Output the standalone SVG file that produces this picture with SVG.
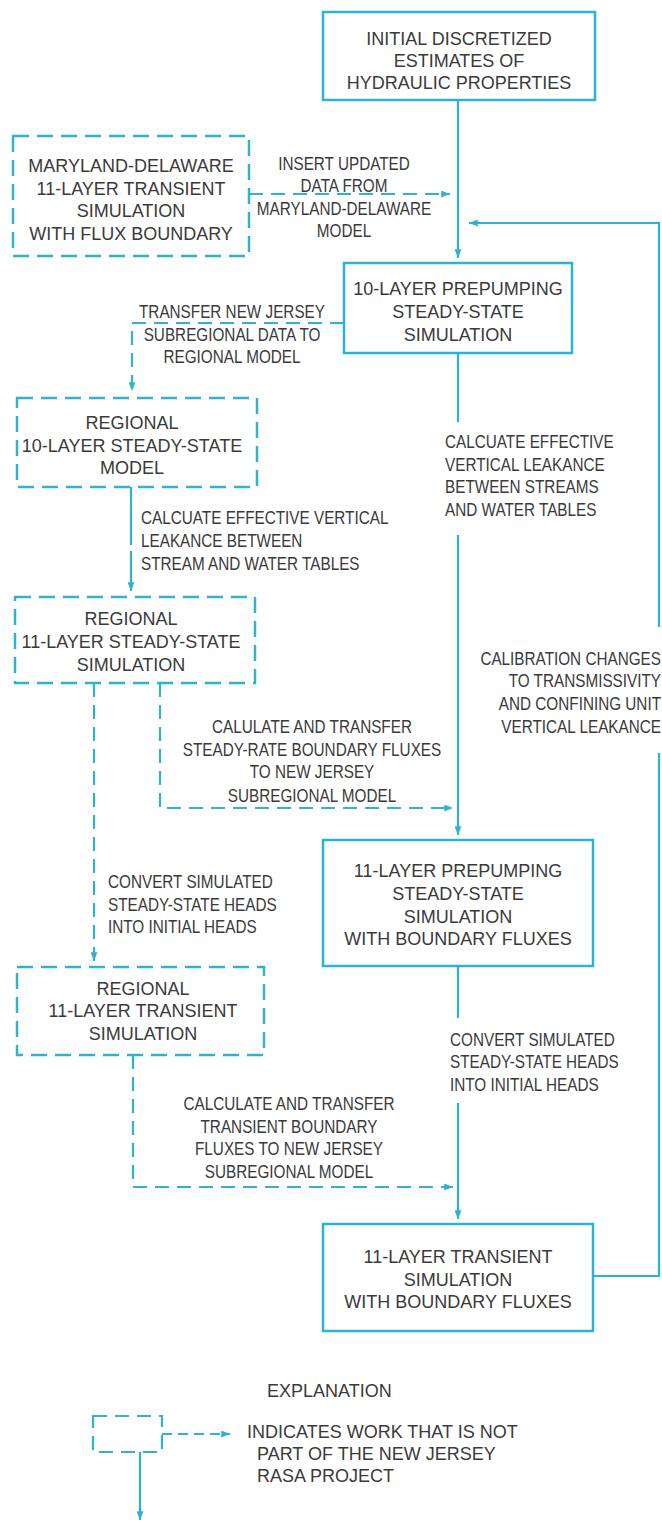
<svg xmlns="http://www.w3.org/2000/svg" width="662" height="1524" viewBox="0 0 662 1524">
<style>
.box{fill:none;stroke:#2bb3d6;stroke-width:2.5}
.dbox{fill:none;stroke:#33b2cc;stroke-width:2.5;stroke-dasharray:16 8}
.c{fill:none;stroke:#2bb3d6;stroke-width:2.2}
.dc{fill:none;stroke:#33b2cc;stroke-width:2.2;stroke-dasharray:14 8}
text{font-family:"Liberation Sans",Arial,sans-serif;font-size:18px;fill:#3a3a3a}
.m{text-anchor:middle}
.s{text-anchor:start}
.e{text-anchor:end}
</style>
<defs>
<marker id="ah" viewBox="0 0 10 8" refX="10" refY="4" markerWidth="9" markerHeight="7" markerUnits="userSpaceOnUse" orient="auto">
<path d="M0,0 L10,4 L0,8 z" fill="#2bb3d6"/>
</marker>
<marker id="dah" viewBox="0 0 10 8" refX="10" refY="4" markerWidth="9" markerHeight="7" markerUnits="userSpaceOnUse" orient="auto">
<path d="M0,0 L10,4 L0,8 z" fill="#33b2cc"/>
</marker>
</defs>
<rect width="662" height="1524" fill="#ffffff"/>

<g id="connectors">
<path class="c" d="M458,100 V258" marker-end="url(#ah)"/>
<path class="dc" d="M249,194 H450" marker-end="url(#dah)"/>
<path class="c" d="M593,1276 H659 V753"/>
<path class="c" d="M659,627 V223 H469" marker-end="url(#ah)"/>
<path class="dc" d="M344,323 H132 V391" marker-end="url(#dah)"/>
<path class="dc" d="M131,487 V591" style="stroke-dasharray:58 6" marker-end="url(#dah)"/>
<path class="c" d="M458,353 V422"/>
<path class="c" d="M458,535 V835" marker-end="url(#ah)"/>
<path class="dc" d="M94,683 V961" marker-end="url(#dah)"/>
<path class="dc" d="M160,683 V808 H453" marker-end="url(#dah)"/>
<path class="c" d="M458,966 V1018"/>
<path class="c" d="M458,1103 V1219" marker-end="url(#ah)"/>
<path class="dc" d="M133,1055 V1187 H453" marker-end="url(#dah)"/>
</g>

<g id="n-initial">
<rect class="box" x="323" y="12" width="272" height="88"/>
<text class="m" x="459" y="45">INITIAL DISCRETIZED</text>
<text class="m" x="459" y="67">ESTIMATES OF</text>
<text class="m" x="459" y="89">HYDRAULIC PROPERTIES</text>
</g>

<g id="n-mdde">
<rect class="dbox" x="13" y="136" width="236" height="120"/>
<text class="m" x="131" y="172">MARYLAND-DELAWARE</text>
<text class="m" x="131" y="195">11-LAYER TRANSIENT</text>
<text class="m" x="131" y="217">SIMULATION</text>
<text class="m" x="131" y="240">WITH FLUX BOUNDARY</text>
</g>

<g id="lbl-insert" transform="translate(344,0) scale(0.85,1)">
<text class="m" x="0" y="170">INSERT UPDATED</text>
<text class="m" x="0" y="192">DATA FROM</text>
<text class="m" x="0" y="215">MARYLAND-DELAWARE</text>
<text class="m" x="0" y="237">MODEL</text>
</g>

<g id="n-10layer">
<rect class="box" x="344" y="263" width="228" height="90"/>
<text class="m" x="458" y="295">10-LAYER PREPUMPING</text>
<text class="m" x="458" y="318">STEADY-STATE</text>
<text class="m" x="458" y="341">SIMULATION</text>
</g>

<g id="lbl-transfer" transform="translate(232,0) scale(0.85,1)">
<text class="m" x="0" y="318">TRANSFER NEW JERSEY</text>
<text class="m" x="0" y="341">SUBREGIONAL DATA TO</text>
<text class="m" x="0" y="363">REGIONAL MODEL</text>
</g>

<g id="n-reg10">
<rect class="dbox" x="17" y="398" width="240" height="89"/>
<text class="m" x="132" y="429">REGIONAL</text>
<text class="m" x="132" y="452">10-LAYER STEADY-STATE</text>
<text class="m" x="132" y="474">MODEL</text>
</g>

<g id="lbl-leak-left" transform="translate(141,0) scale(0.85,1)">
<text class="s" x="0" y="524">CALCUATE EFFECTIVE VERTICAL</text>
<text class="s" x="0" y="547">LEAKANCE BETWEEN</text>
<text class="s" x="0" y="570">STREAM AND WATER TABLES</text>
</g>

<g id="lbl-leak-right" transform="translate(445,0) scale(0.85,1)">
<text class="s" x="0" y="448">CALCUATE EFFECTIVE</text>
<text class="s" x="0" y="471">VERTICAL LEAKANCE</text>
<text class="s" x="0" y="493">BETWEEN STREAMS</text>
<text class="s" x="0" y="516">AND WATER TABLES</text>
</g>

<g id="n-reg11ss">
<rect class="dbox" x="15" y="597" width="240" height="86"/>
<text class="m" x="131" y="625">REGIONAL</text>
<text class="m" x="131" y="648">11-LAYER STEADY-STATE</text>
<text class="m" x="131" y="671">SIMULATION</text>
</g>

<g id="lbl-calib" transform="translate(661,0) scale(0.85,1)">
<text class="e" x="0" y="665">CALIBRATION CHANGES</text>
<text class="e" x="0" y="687">TO TRANSMISSIVITY</text>
<text class="e" x="0" y="710">AND CONFINING UNIT</text>
<text class="e" x="0" y="733">VERTICAL LEAKANCE</text>
</g>

<g id="lbl-steady-flux" transform="translate(312,0) scale(0.85,1)">
<text class="m" x="0" y="733">CALULATE AND TRANSFER</text>
<text class="m" x="0" y="756">STEADY-RATE BOUNDARY FLUXES</text>
<text class="m" x="0" y="778">TO NEW JERSEY</text>
<text class="m" x="0" y="802">SUBREGIONAL MODEL</text>
</g>

<g id="n-11prepump">
<rect class="box" x="323" y="840" width="270" height="126"/>
<text class="m" x="458" y="877">11-LAYER PREPUMPING</text>
<text class="m" x="458" y="900">STEADY-STATE</text>
<text class="m" x="458" y="923">SIMULATION</text>
<text class="m" x="458" y="945">WITH BOUNDARY FLUXES</text>
</g>

<g id="lbl-convert-left" transform="translate(108,0) scale(0.85,1)">
<text class="s" x="0" y="888">CONVERT SIMULATED</text>
<text class="s" x="0" y="911">STEADY-STATE HEADS</text>
<text class="s" x="0" y="933">INTO INITIAL HEADS</text>
</g>

<g id="n-reg11tr">
<rect class="dbox" x="17" y="967" width="247" height="88"/>
<text class="m" x="143" y="995">REGIONAL</text>
<text class="m" x="143" y="1017">11-LAYER TRANSIENT</text>
<text class="m" x="143" y="1040">SIMULATION</text>
</g>

<g id="lbl-transient-flux" transform="translate(289,0) scale(0.85,1)">
<text class="m" x="0" y="1110">CALCULATE AND TRANSFER</text>
<text class="m" x="0" y="1133">TRANSIENT BOUNDARY</text>
<text class="m" x="0" y="1155">FLUXES TO NEW JERSEY</text>
<text class="m" x="0" y="1178">SUBREGIONAL MODEL</text>
</g>

<g id="lbl-convert-right" transform="translate(450,0) scale(0.85,1)">
<text class="s" x="0" y="1046">CONVERT SIMULATED</text>
<text class="s" x="0" y="1068">STEADY-STATE HEADS</text>
<text class="s" x="0" y="1091">INTO INITIAL HEADS</text>
</g>

<g id="n-11transient">
<rect class="box" x="323" y="1224" width="270" height="107"/>
<text class="m" x="458" y="1263">11-LAYER TRANSIENT</text>
<text class="m" x="458" y="1286">SIMULATION</text>
<text class="m" x="458" y="1308">WITH BOUNDARY FLUXES</text>
</g>

<g id="legend">
<text class="s" x="267" y="1397">EXPLANATION</text>
<rect x="93" y="1416" width="69" height="36" fill="none" stroke="#33b2cc" stroke-width="2.2" stroke-dasharray="14 8"/>
<path class="dc" d="M162,1434 H230" style="stroke-dasharray:10 6" marker-end="url(#dah)"/>
<path class="c" d="M140,1452 V1520" marker-end="url(#ah)"/>
<text class="s" x="247" y="1438">INDICATES WORK THAT IS NOT</text>
<text class="s" x="257" y="1460">PART OF THE NEW JERSEY</text>
<text class="s" x="257" y="1482">RASA PROJECT</text>
</g>
</svg>
